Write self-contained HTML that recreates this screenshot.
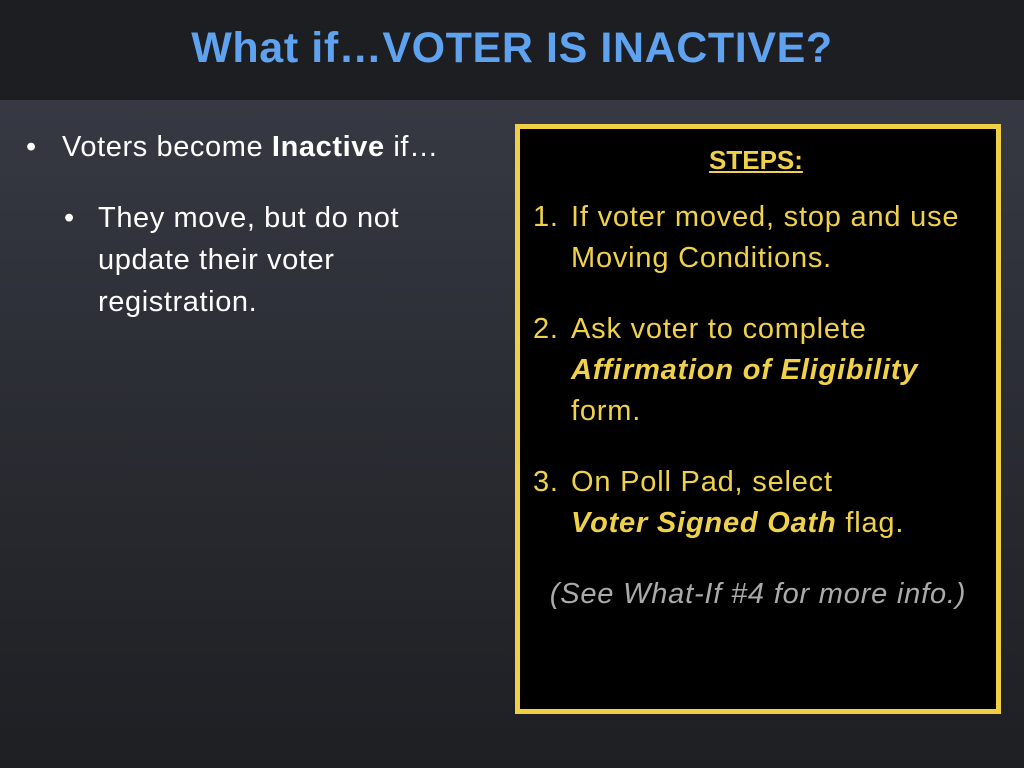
<!DOCTYPE html>
<html><head><meta charset="utf-8"><style>
body{margin:0;width:1024px;height:768px;overflow:hidden;font-family:"Liberation Sans",sans-serif;background:linear-gradient(#363943 100px,#2b2d34 400px,#1e1f23 768px);position:relative}
#bar{position:absolute;left:0;top:0;width:1024px;height:100px;background:#1d1e21}
#title{position:absolute;left:0;top:24px;width:1024px;text-align:center;font-weight:bold;font-size:43px;color:#5fa2ef;letter-spacing:0.6px}
.t{position:absolute;color:#fff;font-size:29px;letter-spacing:0.6px;white-space:nowrap;line-height:42px}
#box{position:absolute;left:515px;top:124px;width:476px;height:580px;background:#000;border:5px solid #efcf44}
.y{position:absolute;color:#f0d24a;font-size:29px;letter-spacing:0.8px;white-space:nowrap;line-height:41px}
</style></head><body>
<div id="bar"></div>
<div id="title">What if…VOTER IS INACTIVE?</div>
<div class="t" style="left:26px;top:126px">•</div>
<div class="t" style="left:62px;top:126px">Voters become <b>Inactive</b> if…</div>
<div class="t" style="left:64px;top:197px">•</div>
<div class="t" style="left:98px;top:197px">They move, but do not<br>update their voter<br>registration.</div>
<div id="box"></div>
<div class="y" style="left:709px;top:140px;font-weight:bold;text-decoration:underline;font-size:26px;letter-spacing:0">STEPS:</div>
<div class="y" style="left:533px;top:197px">1.</div>
<div class="y" style="left:571px;top:197px">If voter moved, stop and use<br>Moving Conditions.</div>
<div class="y" style="left:533px;top:309px">2.</div>
<div class="y" style="left:571px;top:309px">Ask voter to complete<br><b><i>Affirmation of Eligibility</i></b><br>form.</div>
<div class="y" style="left:533px;top:462px">3.</div>
<div class="y" style="left:571px;top:462px">On Poll Pad, select<br><b><i>Voter Signed Oath</i></b> flag.</div>
<div class="y" style="left:515px;width:486px;text-align:center;top:574px;color:#aaa;font-style:italic">(See What-If #4 for more info.)</div>
</body></html>
